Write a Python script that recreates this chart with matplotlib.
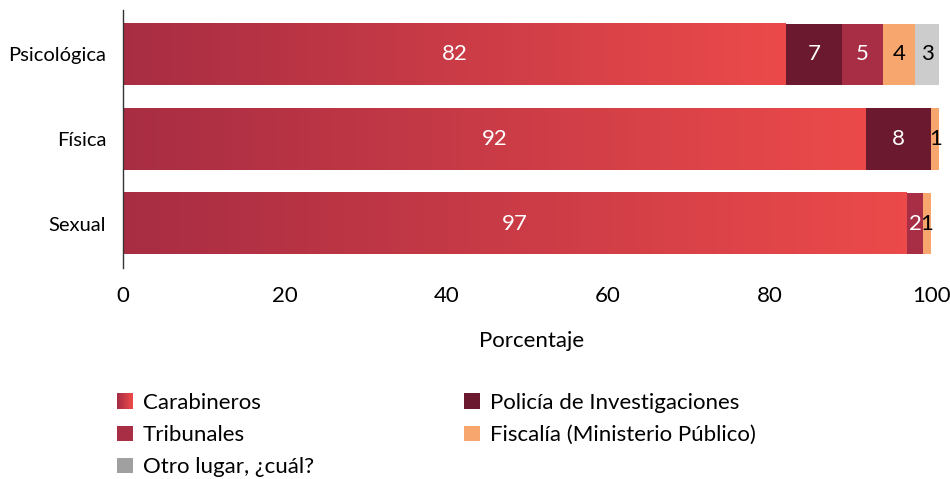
import numpy as np
import matplotlib
matplotlib.use("Agg")
import matplotlib.pyplot as plt
from matplotlib.colors import LinearSegmentedColormap
from matplotlib.legend_handler import HandlerBase
from matplotlib.patches import Rectangle

plt.rcParams["font.family"] = ["Lato", "DejaVu Sans"]

# Porcentaje de denuncias según tipo de violencia e institución
categories = ["Psicológica", "Física", "Sexual"]
series = ["Carabineros", "Policía de Investigaciones", "Tribunales",
          "Fiscalía (Ministerio Público)", "Otro lugar, ¿cuál?"]
carabineros = [82, 92, 97]
pdi = [7, 8, 0]
tribunales = [5, 0, 2]
fiscalia = [4, 1, 1]
otro = [3, 0, 0]
xticks = [0, 20, 40, 60, 80, 100]

GRAD_LEFT = "#a82d43"
GRAD_RIGHT = "#ec4a4a"
colors = {
    "Policía de Investigaciones": "#6b192e",
    "Tribunales": "#a82e45",
    "Fiscalía (Ministerio Público)": "#f7a76e",
    "Otro lugar, ¿cuál?": "#cccccc",
}
legend_colors = dict(colors)
legend_colors["Otro lugar, ¿cuál?"] = "#a0a0a0"
dark_text = {"Fiscalía (Ministerio Público)", "Otro lugar, ¿cuál?"}

grad_cmap = LinearSegmentedColormap.from_list("carab", [GRAD_LEFT, GRAD_RIGHT])
FS = 16


class GradientHandler(HandlerBase):
    """Legend swatch drawn as a left-to-right colour ramp."""

    def create_artists(self, legend, orig_handle, xdescent, ydescent,
                       width, height, fontsize, trans):
        side = min(width, height)
        x0 = -xdescent + (width - side) / 2
        n = 12
        parts = []
        for i in range(n):
            c = grad_cmap(i / (n - 1))
            r = Rectangle((x0 + side * i / n, -ydescent), side / n + 0.3, side,
                          facecolor=c, edgecolor="none", transform=trans)
            parts.append(r)
        return parts


class SquareHandler(HandlerBase):
    def create_artists(self, legend, orig_handle, xdescent, ydescent,
                       width, height, fontsize, trans):
        side = min(width, height)
        x0 = -xdescent + (width - side) / 2
        r = Rectangle((x0, -ydescent), side, side,
                      facecolor=orig_handle.get_facecolor(), edgecolor="none",
                      transform=trans)
        return [r]


fig = plt.figure(figsize=(9.5, 4.79), dpi=100)
ax = fig.add_axes([123 / 950, 1 - 268 / 479, (940 - 123) / 950, (268 - 10) / 479])

y = np.arange(len(categories))[::-1]
h = 0.72

# Carabineros: gradient fill along each bar
grad = np.linspace(0, 1, 256).reshape(1, -1)
for yi, val in zip(y, carabineros):
    ax.imshow(grad, cmap=grad_cmap, aspect="auto",
              extent=(0, val, yi - h / 2, yi + h / 2), zorder=2,
              interpolation="bicubic")
    ax.text(val / 2, yi, str(val), ha="center", va="center",
            color="white", fontsize=FS, zorder=4)

left = np.array(carabineros, dtype=float)
for name, vals in [("Policía de Investigaciones", pdi), ("Tribunales", tribunales),
                   ("Fiscalía (Ministerio Público)", fiscalia),
                   ("Otro lugar, ¿cuál?", otro)]:
    vals = np.array(vals, dtype=float)
    ax.barh(y, vals, left=left, height=h, color=colors[name],
            edgecolor="none", zorder=3)
    for yi, l, v in zip(y, left, vals):
        if v > 0:
            ax.text(l + v / 2, yi, f"{v:.0f}", ha="center", va="center",
                    color="black" if name in dark_text else "white",
                    fontsize=FS, zorder=4)
    left += vals

ax.set_xlim(0, 101.1)
ax.set_ylim(-0.52, 2.52)
ax.set_yticks(y)
ax.set_yticklabels(categories, fontsize=14.5)
ax.set_xticks(xticks)
ax.set_xticklabels([str(t) for t in xticks], fontsize=FS)
ax.tick_params(axis="both", length=0)
ax.tick_params(axis="x", pad=13)
ax.tick_params(axis="y", pad=12)
for side in ["top", "right", "bottom"]:
    ax.spines[side].set_visible(False)
ax.spines["left"].set_color("#333333")
ax.spines["left"].set_linewidth(1)
ax.set_xlabel("Porcentaje", fontsize=FS, labelpad=18)

# legend: filled column-wise, so order is col1 then col2
order = ["Carabineros", "Tribunales", "Otro lugar, ¿cuál?",
         "Policía de Investigaciones", "Fiscalía (Ministerio Público)"]
handles, hmap = [], {}
for name in order:
    if name == "Carabineros":
        hd = Rectangle((0, 0), 1, 1, facecolor=GRAD_RIGHT)
        hmap[hd] = GradientHandler()
    else:
        hd = Rectangle((0, 0), 1, 1, facecolor=legend_colors[name])
        hmap[hd] = SquareHandler()
    handles.append(hd)

fig.legend(handles, order, handler_map=hmap, ncol=2, frameon=False,
           loc="upper left", bbox_to_anchor=(114 / 950, 1 - 393 / 479),
           fontsize=FS, handlelength=1.0, handleheight=0.7,
           handletextpad=0.3, columnspacing=6.6, labelspacing=0.55,
           borderaxespad=0, borderpad=0)

fig.savefig("out.png", dpi=100)
